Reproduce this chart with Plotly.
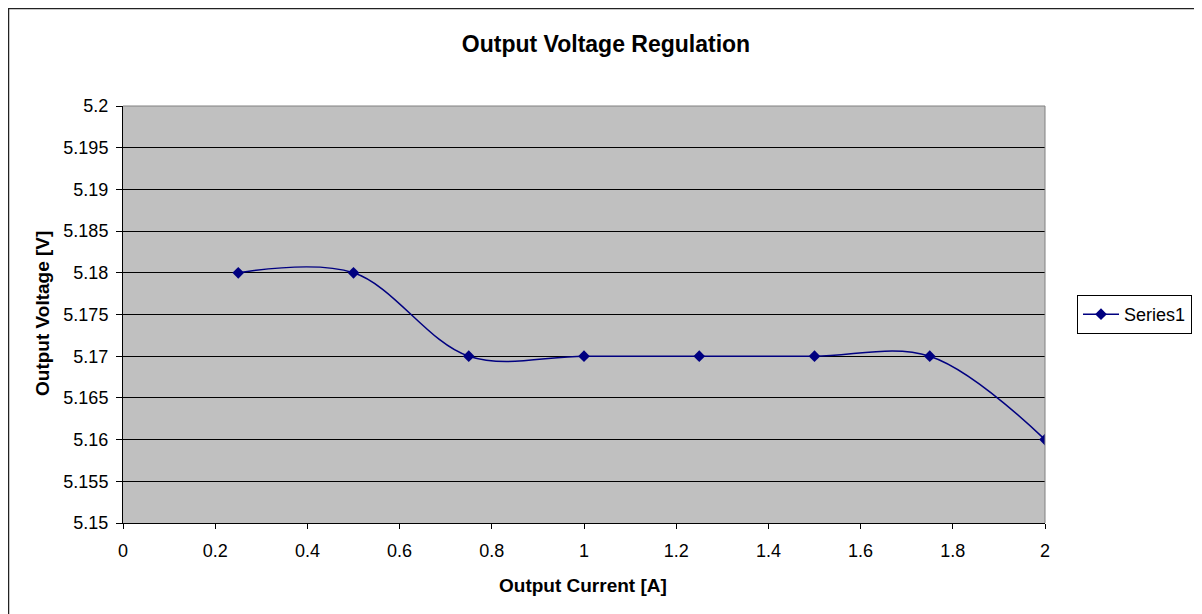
import plotly.graph_objects as go

current = [0.25, 0.5, 0.75, 1.0, 1.25, 1.5, 1.75, 2.0]
voltage = [5.18, 5.18, 5.17, 5.17, 5.17, 5.17, 5.17, 5.16]
series_name = "Series1"

x_tick_vals = [0, 0.2, 0.4, 0.6, 0.8, 1.0, 1.2, 1.4, 1.6, 1.8, 2.0]
x_tick_text = ["0", "0.2", "0.4", "0.6", "0.8", "1", "1.2", "1.4", "1.6", "1.8", "2"]
y_tick_vals = [5.15, 5.155, 5.16, 5.165, 5.17, 5.175, 5.18, 5.185, 5.19, 5.195, 5.2]
y_tick_text = ["5.15", "5.155", "5.16", "5.165", "5.17", "5.175", "5.18", "5.185", "5.19", "5.195", "5.2"]

# the page body has an 8px margin, so figure pixel = screen pixel - 8
W, H = 1202, 614
L, R, T, B = 115, 1037, 98, 515
pw, ph = R - L, B - T

def px_x(p):
    return (p - L) / pw

def px_y(p):
    return (B - p) / ph

FONT = "Liberation Sans, Arial, sans-serif"
NAVY = "#000080"

fig = go.Figure()
fig.add_trace(go.Scatter(
    x=current, y=voltage, name=series_name, mode="lines+markers",
    line=dict(color=NAVY, width=1.5, shape="spline", smoothing=1.0),
    marker=dict(symbol="diamond", size=9, color=NAVY),
))

fig.update_layout(
    width=W, height=H,
    margin=dict(l=L, r=W - R, t=T, b=H - B, autoexpand=False),
    paper_bgcolor="white", plot_bgcolor="#C0C0C0",
    font=dict(family=FONT, color="black", size=18),
    title=dict(text="<b>Output Voltage Regulation</b>", x=598 / W, xanchor="center",
               y=1 - 36 / H, yanchor="middle", font=dict(size=23, family=FONT, color="black")),
    showlegend=True,
    legend=dict(x=px_x(1069), xanchor="left", y=px_y(306.5), yanchor="middle",
                bordercolor="black", borderwidth=1, bgcolor="white", itemwidth=36,
                font=dict(size=18, family=FONT, color="black")),
    xaxis=dict(range=[0, 2], tickvals=x_tick_vals, ticktext=x_tick_text,
               showgrid=False, zeroline=False, showline=True, linecolor="black", linewidth=1,
               ticks="outside", ticklen=5, tickcolor="black", tickfont=dict(size=18),
               ticklabelstandoff=6, automargin=False),
    yaxis=dict(range=[5.15, 5.2], tickvals=y_tick_vals, ticktext=y_tick_text,
               showgrid=True, gridcolor="black", gridwidth=1, zeroline=False,
               showline=True, linecolor="black", linewidth=1,
               ticks="outside", ticklen=6, tickcolor="black", tickfont=dict(size=18),
               ticklabelstandoff=4, automargin=False),
    annotations=[
        dict(text="<b>Output Current [A]</b>", xref="paper", yref="paper",
             x=px_x(575), y=px_y(577), xanchor="center", yanchor="middle", showarrow=False,
             font=dict(size=19, family=FONT, color="black")),
        dict(text="<b>Output Voltage [V]</b>", xref="paper", yref="paper",
             x=px_x(34), y=px_y(306), xanchor="center", yanchor="middle", textangle=-90,
             showarrow=False, font=dict(size=19, family=FONT, color="black")),
    ],
    shapes=[
        dict(type="rect", xref="paper", yref="paper", x0=px_x(0.5), x1=px_x(1230),
             y0=px_y(640), y1=px_y(0.5), line=dict(color="#222222", width=1.5), layer="below"),
        dict(type="line", xref="paper", yref="paper", x0=0, x1=1, y0=1, y1=1,
             line=dict(color="#808080", width=1), layer="above"),
        dict(type="line", xref="paper", yref="paper", x0=1, x1=1, y0=0, y1=1,
             line=dict(color="#808080", width=1), layer="above"),
    ],
)

fig.write_html("out.html")
